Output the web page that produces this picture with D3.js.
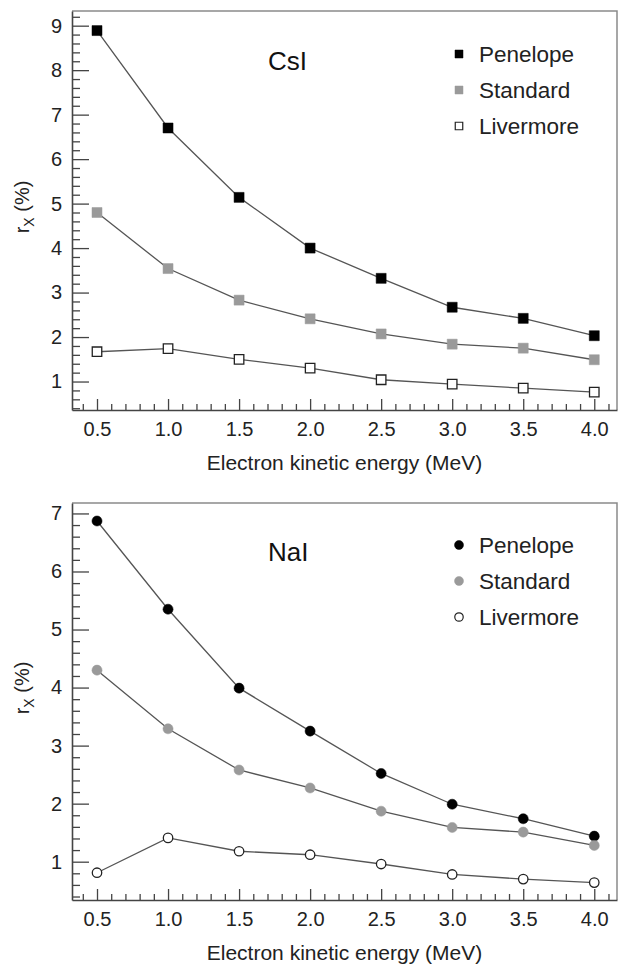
<!DOCTYPE html>
<html>
<head>
<meta charset="utf-8">
<script src="https://cdn.jsdelivr.net/npm/d3@7"></script>
<style>
  html, body { margin: 0; padding: 0; background: #ffffff; }
  svg { display: block; font-family: "Liberation Sans", Arial, sans-serif; }
</style>
</head>
<body>
<svg id="chart" width="619" height="964"></svg>
<script>
// Electron kinetic energy (MeV)
const energies = [0.5, 1.0, 1.5, 2.0, 2.5, 3.0, 3.5, 4.0];

// r_X (%) for CsI
const csiPenelope  = [8.89, 6.70, 5.14, 4.00, 3.32, 2.67, 2.42, 2.03];
const csiStandard  = [4.80, 3.54, 2.83, 2.41, 2.07, 1.84, 1.75, 1.49];
const csiLivermore = [1.67, 1.74, 1.50, 1.30, 1.04, 0.94, 0.85, 0.76];

// r_X (%) for NaI
const naiPenelope  = [6.87, 5.35, 3.99, 3.25, 2.52, 1.99, 1.74, 1.44];
const naiStandard  = [4.30, 3.29, 2.58, 2.27, 1.87, 1.59, 1.51, 1.28];
const naiLivermore = [0.81, 1.41, 1.18, 1.12, 0.96, 0.78, 0.70, 0.64];

const seriesNames = ["Penelope", "Standard", "Livermore"];
const xTickValues = [0.5, 1.0, 1.5, 2.0, 2.5, 3.0, 3.5, 4.0];
const csiYTicks = [1, 2, 3, 4, 5, 6, 7, 8, 9];
const naiYTicks = [1, 2, 3, 4, 5, 6, 7];

const svg = d3.select("#chart");
const left = 72, right = 617;

const styles = {
  Penelope:  { fill: "#000000", stroke: "#000000" },
  Standard:  { fill: "#9a9a9a", stroke: "#9a9a9a" },
  Livermore: { fill: "#ffffff", stroke: "#222222" }
};

function drawPanel(cfg) {
  const g = svg.append("g");
  const x = d3.scaleLinear().domain([0.324, 4.16]).range([left, right]);
  const y = d3.scaleLinear().domain(cfg.yDomain).range([cfg.bottom, cfg.top]);

  // frame: light top/right edges
  g.append("path")
    .attr("d", `M${left},${cfg.top}H${right}V${cfg.bottom}`)
    .attr("fill", "none").attr("stroke", "#8a8a8a").attr("stroke-width", 1.5);

  const majorX = xTickValues;
  const minorX = d3.range(4, 42).map(v => v / 10).filter(v => !majorX.some(m => Math.abs(m - v) < 1e-6));
  const majorY = cfg.yTicks;
  const minorY = d3.range(2, Math.floor(cfg.yDomain[1] * 5) + 1).map(v => v / 5)
    .filter(v => v >= cfg.yDomain[0] && !majorY.some(m => Math.abs(m - v) < 1e-6));

  // minor ticks (inward)
  g.append("g").attr("transform", `translate(0,${cfg.bottom})`)
    .call(d3.axisBottom(x).tickValues(minorX).tickSize(-6).tickFormat(""))
    .call(a => a.select(".domain").remove());
  g.append("g").attr("transform", `translate(${left},0)`)
    .call(d3.axisLeft(y).tickValues(minorY).tickSize(-8).tickFormat(""))
    .call(a => a.select(".domain").remove());

  // major ticks with labels
  const xa = g.append("g").attr("transform", `translate(0,${cfg.bottom})`)
    .call(d3.axisBottom(x).tickValues(majorX).tickSize(-11).tickPadding(12).tickSizeOuter(0)
      .tickFormat(d3.format(".1f")));
  const ya = g.append("g").attr("transform", `translate(${left},0)`)
    .call(d3.axisLeft(y).tickValues(majorY).tickSize(-17).tickPadding(10).tickSizeOuter(0)
      .tickFormat(d3.format("d")));

  [xa, ya].forEach(a => {
    a.select(".domain").attr("stroke", "#444").attr("stroke-width", 1.6);
    a.selectAll("text").attr("fill", "#222").style("font-size", "20px")
      .style("font-family", "'Liberation Sans', Arial, sans-serif");
  });
  g.selectAll(".tick line").attr("stroke", "#444").attr("stroke-width", 1.3);

  // axis titles
  g.append("text")
    .attr("x", (left + right) / 2).attr("y", cfg.bottom + 60)
    .attr("text-anchor", "middle").attr("fill", "#222").style("font-size", "21px")
    .text("Electron kinetic energy (MeV)");

  const yt = g.append("text")
    .attr("transform", `translate(29,${cfg.yTitleCenter}) rotate(-90)`)
    .attr("text-anchor", "middle").attr("fill", "#222").style("font-size", "20px");
  yt.append("tspan").text("r");
  yt.append("tspan").attr("dy", 5).style("font-size", "14px").text("X");
  yt.append("tspan").attr("dy", -5).text(" (%)");

  // material label
  g.append("text").attr("x", 268).attr("y", cfg.titleBaseline)
    .attr("fill", "#111").style("font-size", "26px").text(cfg.title);

  // series lines and markers
  const line = d3.line().x(d => x(d[0])).y(d => y(d[1]));
  const symType = cfg.shape === "square" ? d3.symbolSquare : d3.symbolCircle;
  const symSize = cfg.shape === "square" ? 100 : 80;

  cfg.series.forEach(s => {
    const pts = energies.map((e, i) => [e, s.values[i]]);
    g.append("path").datum(pts).attr("d", line)
      .attr("fill", "none").attr("stroke", "#555").attr("stroke-width", 1.3);
  });
  cfg.series.forEach(s => {
    const pts = energies.map((e, i) => [e, s.values[i]]);
    const st = styles[s.name];
    g.selectAll(null).data(pts).enter().append("path")
      .attr("transform", d => `translate(${x(d[0])},${y(d[1])})`)
      .attr("d", d3.symbol(symType, s.name === "Livermore" ? symSize - 10 : symSize))
      .attr("fill", st.fill).attr("stroke", st.stroke)
      .attr("stroke-width", s.name === "Livermore" ? 1.3 : 0.5);
  });

  // legend
  const lg = g.append("g");
  seriesNames.forEach((name, i) => {
    const cy = cfg.legendTop + i * 36;
    const st = styles[name];
    lg.append("path")
      .attr("transform", `translate(459,${cy})`)
      .attr("d", d3.symbol(symType, name === "Livermore" ? 56 : 64))
      .attr("fill", st.fill).attr("stroke", st.stroke)
      .attr("stroke-width", name === "Livermore" ? 1.2 : 0.5);
    lg.append("text").attr("x", 479).attr("y", cy + 8)
      .attr("fill", "#222").style("font-size", "22.5px").text(name);
  });
}

drawPanel({
  top: 11, bottom: 410, yDomain: [0.36, 9.33], yTicks: csiYTicks,
  title: "CsI", titleBaseline: 70, legendTop: 54, yTitleCenter: 207, shape: "square",
  series: [
    { name: "Penelope", values: csiPenelope },
    { name: "Standard", values: csiStandard },
    { name: "Livermore", values: csiLivermore }
  ]
});

drawPanel({
  top: 503, bottom: 900, yDomain: [0.34, 7.18], yTicks: naiYTicks,
  title: "NaI", titleBaseline: 561, legendTop: 545, yTitleCenter: 688, shape: "circle",
  series: [
    { name: "Penelope", values: naiPenelope },
    { name: "Standard", values: naiStandard },
    { name: "Livermore", values: naiLivermore }
  ]
});
</script>
</body>
</html>
